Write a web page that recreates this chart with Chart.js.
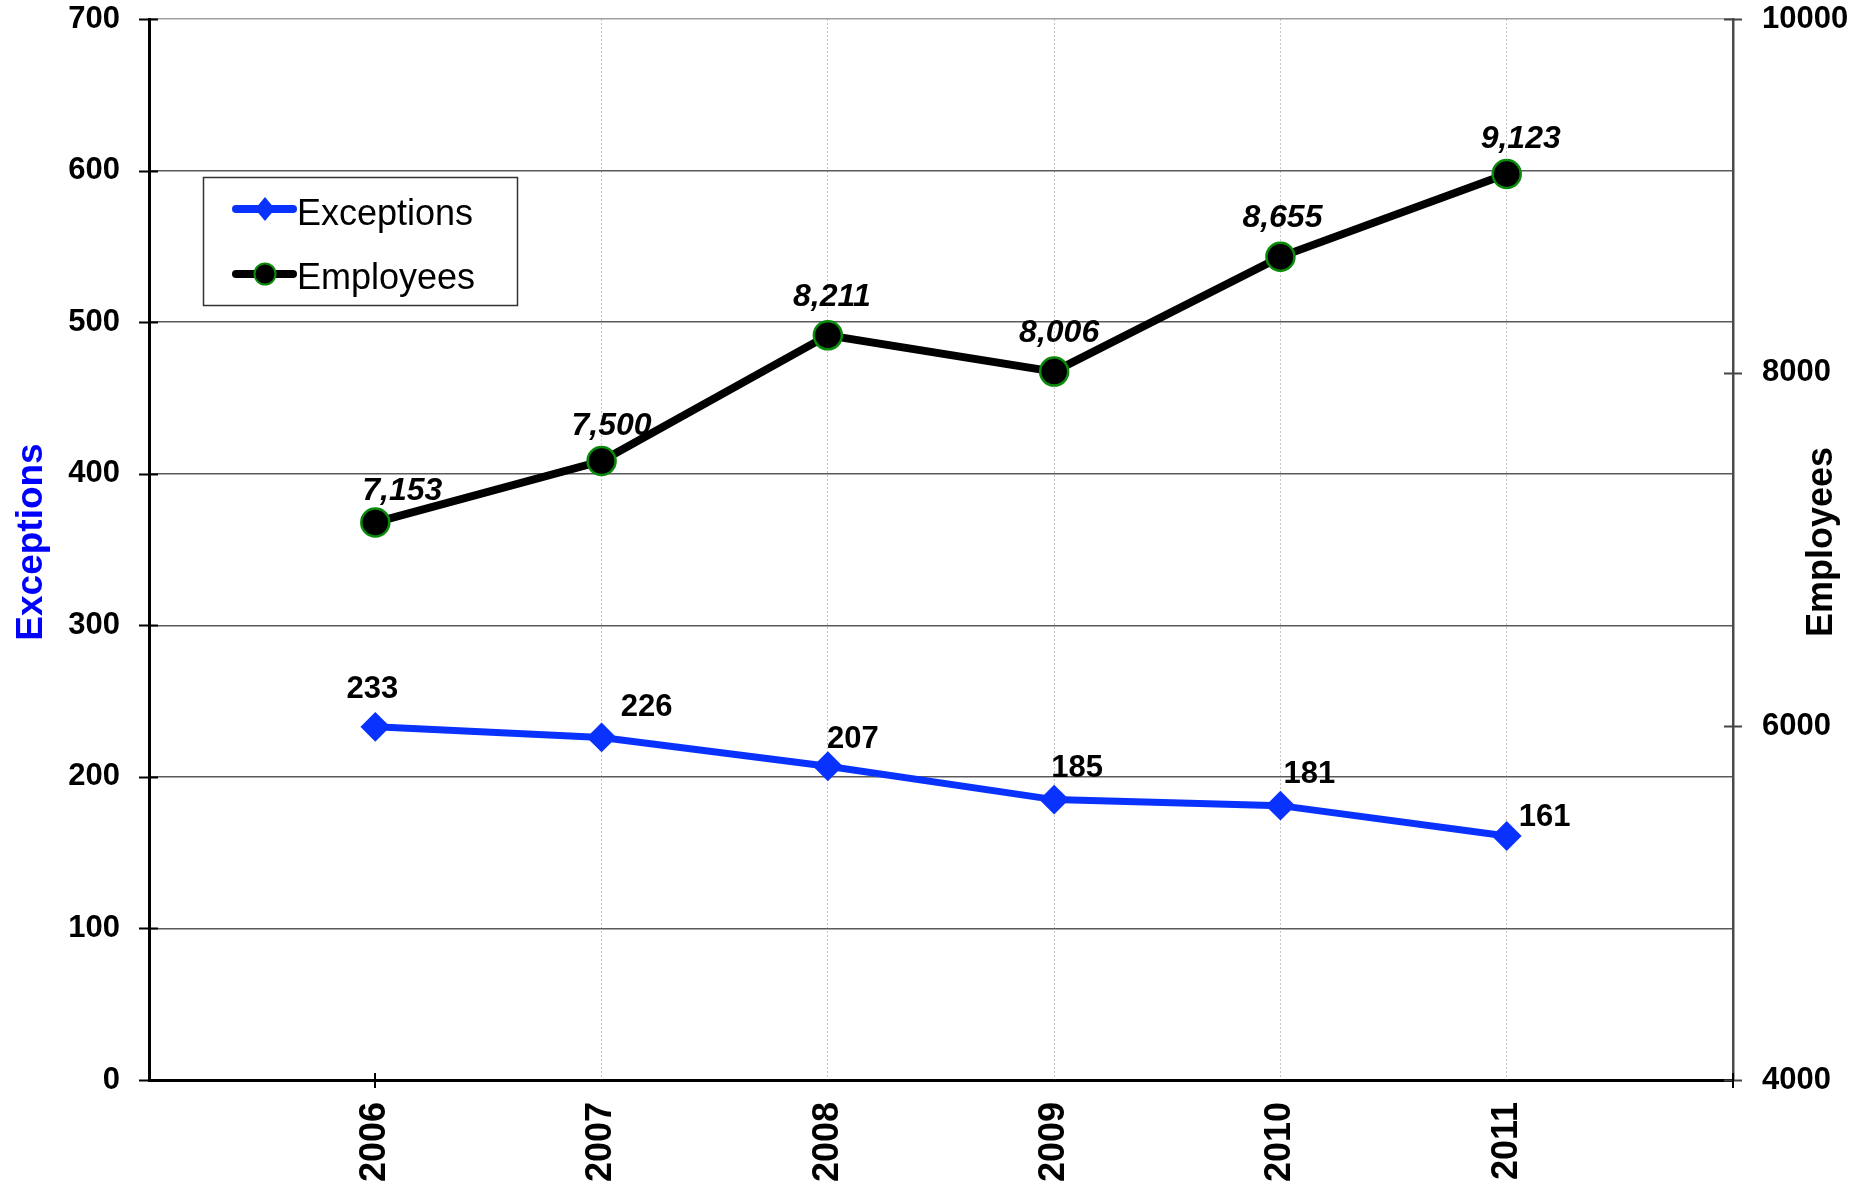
<!DOCTYPE html>
<html>
<head>
<meta charset="utf-8">
<title>Exceptions and Employees, 2006–2011</title>
<script src="https://cdn.jsdelivr.net/npm/chart.js@4/dist/chart.umd.min.js"></script>
<style>
  html, body { margin: 0; padding: 0; background: #ffffff; }
  #wrap { width: 1866px; height: 1185px; }
</style>
</head>
<body>
<div id="wrap"><canvas id="chart" width="1866" height="1185"></canvas></div>
<script>
// ---- data ----
const years = [2006, 2007, 2008, 2009, 2010, 2011];
const exceptions = [233, 226, 207, 185, 181, 161];
const employees = [7153, 7500, 8211, 8006, 8655, 9123];

const exceptionTicks = [0, 100, 200, 300, 400, 500, 600, 700];
const employeeTicks = [4000, 6000, 8000, 10000];

// ---- styling ----
const FONT = '"Liberation Sans", Arial, Helvetica, sans-serif';
const BLUE = '#0a32ff';
const GREEN = '#0a8a0a';

// label nudges (px) from each point to the centre of its value label
const exceptionLabelShift = [[-3, -37], [45, -30], [25, -27], [23, -31], [29, -31], [38, -19]];
const employeeLabelShift = [[27, -31], [10, -35], [4, -38], [5, -38], [2, -39], [14, -35]];

const toPoints = (vals) => years.map((yr, i) => ({ x: yr, y: vals[i] }));

// keep the plot edges where the axis widths put them (no extra label overhang)
const noOverhang = (scale) => {
  scale.paddingTop = 0;
  scale.paddingBottom = 0;
  scale.paddingLeft = 0;
  scale.paddingRight = 0;
};

// value labels beside each point
const valueLabels = {
  id: 'valueLabels',
  afterDatasetsDraw(chart) {
    const ctx = chart.ctx;
    ctx.save();
    ctx.textAlign = 'center';
    ctx.textBaseline = 'middle';
    ctx.fillStyle = '#000';
    chart.getDatasetMeta(0).data.forEach((pt, i) => {
      ctx.font = 'bold 31px ' + FONT;
      const [dx, dy] = exceptionLabelShift[i];
      ctx.fillText(String(exceptions[i]), pt.x + dx, pt.y + dy);
    });
    chart.getDatasetMeta(1).data.forEach((pt, i) => {
      ctx.font = 'italic bold 32px ' + FONT;
      const [dx, dy] = employeeLabelShift[i];
      ctx.fillText(employees[i].toLocaleString('en-US'), pt.x + dx, pt.y + dy);
    });
    ctx.restore();
  }
};

// tick marks that cross the axis lines, axis titles and the boxed legend
const decorations = {
  id: 'decorations',
  afterDraw(chart) {
    const ctx = chart.ctx;
    const { x, y, y2 } = chart.scales;
    const area = chart.chartArea;
    ctx.save();

    // left axis ticks
    ctx.strokeStyle = '#000';
    ctx.lineWidth = 2;
    exceptionTicks.forEach(v => {
      const py = Math.round(y.getPixelForValue(v)) + 0.5;
      ctx.beginPath();
      ctx.moveTo(area.left - 10, py);
      ctx.lineTo(area.left + 9, py);
      ctx.stroke();
    });
    // right axis ticks
    ctx.strokeStyle = '#444';
    employeeTicks.forEach(v => {
      const py = Math.round(y2.getPixelForValue(v)) + 0.5;
      ctx.beginPath();
      ctx.moveTo(area.right - 9, py);
      ctx.lineTo(area.right + 9, py);
      ctx.stroke();
    });
    // x axis ticks at the first year and the right end
    ctx.strokeStyle = '#000';
    [x.getPixelForValue(years[0]), area.right].forEach(px => {
      ctx.beginPath();
      ctx.moveTo(Math.round(px), area.bottom - 7);
      ctx.lineTo(Math.round(px), area.bottom + 8);
      ctx.stroke();
    });

    // axis titles (both read bottom to top)
    const midY = 542;
    ctx.textAlign = 'center';
    ctx.textBaseline = 'alphabetic';
    ctx.font = 'bold 37px ' + FONT;
    ctx.fillStyle = '#0000ff';
    ctx.save();
    ctx.translate(42, midY);
    ctx.rotate(-Math.PI / 2);
    ctx.fillText('Exceptions', 0, 0);
    ctx.restore();
    ctx.font = 'bold 36px ' + FONT;
    ctx.fillStyle = '#000';
    ctx.save();
    ctx.translate(1832, midY);
    ctx.rotate(-Math.PI / 2);
    ctx.fillText('Employees', 0, 0);
    ctx.restore();

    // legend box
    const bx = 203, by = 177, bw = 314, bh = 128;
    ctx.fillStyle = '#fff';
    ctx.fillRect(bx, by, bw, bh);
    ctx.strokeStyle = '#333';
    ctx.lineWidth = 1.5;
    ctx.strokeRect(bx + 0.5, by + 0.5, bw, bh);

    const sx0 = 236, sx1 = 293, mx = 265;
    const rows = [
      { label: chart.data.datasets[0].label, y: 209, base: 225, color: BLUE, marker: 'diamond' },
      { label: chart.data.datasets[1].label, y: 274, base: 289, color: '#000', marker: 'circle' }
    ];
    rows.forEach(r => {
      ctx.strokeStyle = r.color;
      ctx.lineWidth = 8;
      ctx.lineCap = 'round';
      ctx.beginPath();
      ctx.moveTo(sx0, r.y);
      ctx.lineTo(sx1, r.y);
      ctx.stroke();
      ctx.lineCap = 'butt';
      if (r.marker === 'diamond') {
        ctx.fillStyle = BLUE;
        ctx.beginPath();
        ctx.moveTo(mx, r.y - 12);
        ctx.lineTo(mx + 10, r.y);
        ctx.lineTo(mx, r.y + 12);
        ctx.lineTo(mx - 10, r.y);
        ctx.closePath();
        ctx.fill();
      } else {
        ctx.fillStyle = '#000';
        ctx.strokeStyle = GREEN;
        ctx.lineWidth = 2;
        ctx.beginPath();
        ctx.arc(mx, r.y, 10.5, 0, Math.PI * 2);
        ctx.fill();
        ctx.stroke();
      }
      ctx.fillStyle = '#000';
      ctx.font = '36px ' + FONT;
      ctx.textAlign = 'left';
      ctx.textBaseline = 'alphabetic';
      ctx.fillText(r.label, 297, r.base);
    });

    ctx.restore();
  }
};

new Chart(document.getElementById('chart'), {
  type: 'line',
  data: {
    datasets: [
      {
        label: 'Exceptions',
        data: toPoints(exceptions),
        yAxisID: 'y',
        borderColor: BLUE,
        backgroundColor: BLUE,
        borderWidth: 7,
        pointStyle: 'rectRot',
        pointRadius: 13.5,
        pointBorderWidth: 2,
        pointBackgroundColor: BLUE,
        pointBorderColor: BLUE,
        tension: 0
      },
      {
        label: 'Employees',
        data: toPoints(employees),
        yAxisID: 'y2',
        borderColor: '#000',
        backgroundColor: '#000',
        borderWidth: 8,
        pointStyle: 'circle',
        pointRadius: 14,
        pointBorderWidth: 2.5,
        pointBackgroundColor: '#000',
        pointBorderColor: GREEN,
        tension: 0
      }
    ]
  },
  options: {
    responsive: false,
    animation: false,
    events: [],
    layout: { padding: { top: 19, left: 0, right: 0, bottom: 0 } },
    plugins: {
      legend: { display: false },
      tooltip: { enabled: false },
      title: { display: false }
    },
    scales: {
      x: {
        type: 'linear',
        min: years[0] - 1,
        max: years[years.length - 1] + 1,
        afterFit(scale) { scale.height = 105; noOverhang(scale); },
        ticks: {
          stepSize: 1,
          autoSkip: false,
          minRotation: 90,
          maxRotation: 90,
          padding: 22,
          color: '#000',
          font: { family: FONT, size: 36, weight: 'bold' },
          callback: (v) => years.includes(v) ? String(v) : ''
        },
        grid: {
          drawTicks: false,
          lineWidth: 1,
          color: (c) => (c.tick && c.tick.value > years[0] && c.tick.value <= years[years.length - 1]) ? '#c4c4c4' : 'rgba(0,0,0,0)'
        },
        border: { display: true, color: '#000', width: 3, dash: [2, 2] }
      },
      y: {
        position: 'left',
        min: exceptionTicks[0],
        max: exceptionTicks[exceptionTicks.length - 1],
        afterFit(scale) { scale.width = 149; noOverhang(scale); },
        afterBuildTicks(scale) { scale.ticks = exceptionTicks.map(v => ({ value: v })); },
        ticks: {
          padding: 29,
          color: '#000',
          font: { family: FONT, size: 31, weight: 'bold' },
          callback: (v) => String(v)
        },
        grid: {
          drawTicks: false,
          lineWidth: 1.5,
          color: (c) => c.tick && c.tick.value === exceptionTicks[exceptionTicks.length - 1] ? '#a0a0a0' : '#5a5a5a'
        },
        border: { display: true, color: '#000', width: 3 }
      },
      y2: {
        position: 'right',
        min: employeeTicks[0],
        max: employeeTicks[employeeTicks.length - 1],
        afterFit(scale) { scale.width = 133; noOverhang(scale); },
        afterBuildTicks(scale) { scale.ticks = employeeTicks.map(v => ({ value: v })); },
        ticks: {
          padding: 29,
          color: '#000',
          font: { family: FONT, size: 31, weight: 'bold' },
          callback: (v) => String(v)
        },
        grid: { drawOnChartArea: false, drawTicks: false },
        border: { display: true, color: '#4a4a4a', width: 2.5 }
      }
    }
  },
  plugins: [valueLabels, decorations]
});
</script>
</body>
</html>
